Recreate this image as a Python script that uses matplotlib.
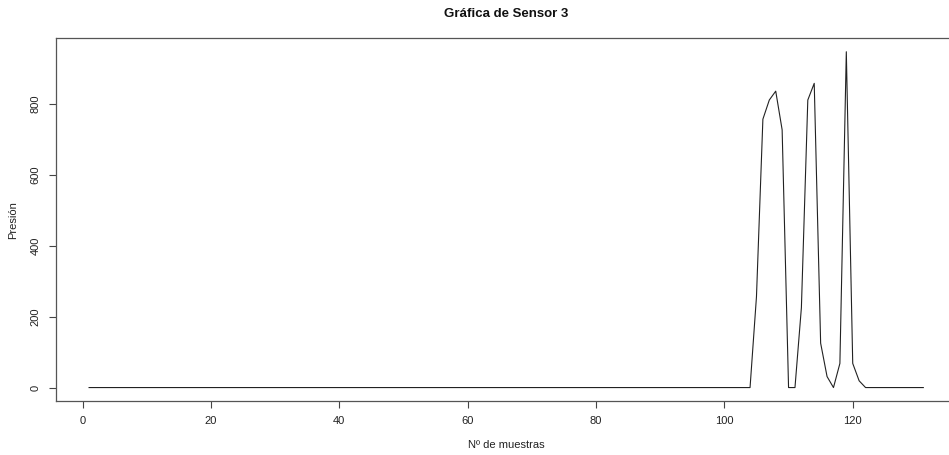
import matplotlib
matplotlib.use("Agg")
import matplotlib.pyplot as plt
import numpy as np

plt.rcParams['font.family'] = ['Liberation Sans', 'DejaVu Sans']

# sensor 3 readings, sample index 1..131
samples = list(range(1, 132))
quiet_before = [0] * 104           # samples 1..104
burst = [256, 756, 810, 835, 726,  # samples 105..109
         0, 0, 225, 810, 857,      # samples 110..114
         125, 31, 0, 68, 946,      # samples 115..119
         68, 19]                   # samples 120..121
quiet_after = [0] * 10             # samples 122..131
presion = quiet_before + burst + quiet_after

x_ticks = [0, 20, 40, 60, 80, 100, 120]
y_ticks = [0, 200, 400, 600, 800]

fig = plt.figure(figsize=(9.49, 4.55), dpi=100)
# plot region runs a little past the right edge of the canvas
ax = fig.add_axes([0.0587, 0.1187, 1.0081 - 0.0587, 0.9158 - 0.1187])

ax.plot(samples, presion, color='#222222', lw=0.8)

# R-style 4% padding around the data range
xr = max(samples) - min(samples)
ax.set_xlim(min(samples) - 0.04 * xr, max(samples) + 0.04 * xr)
yr = max(presion) - min(presion)
ax.set_ylim(min(presion) - 0.04 * yr, max(presion) + 0.04 * yr)

ax.set_xticks(x_ticks)
ax.set_yticks(y_ticks)
ax.tick_params(direction='out', length=5, width=0.8, color='#444444',
               labelsize=8, labelcolor='#222222', pad=6)
ax.tick_params(axis='y', labelrotation=90)
for lab in ax.get_yticklabels():
    lab.set_va('center')

for s in ax.spines.values():
    s.set_color('#555555')
    s.set_linewidth(0.9)

fig.text(506 / 949, 1 - 14 / 455, 'Gráfica de Sensor 3', ha='center',
         va='center', fontsize=9.5, fontweight='bold', color='#111111')
fig.text(506 / 949, 1 - 445 / 455, 'Nº de muestras', ha='center',
         va='center', fontsize=8, color='#222222')
fig.text(13 / 949, 1 - 220 / 455, 'Presión', ha='center', va='center',
         rotation=90, fontsize=8, color='#222222')

fig.savefig('out.png', dpi=100)
